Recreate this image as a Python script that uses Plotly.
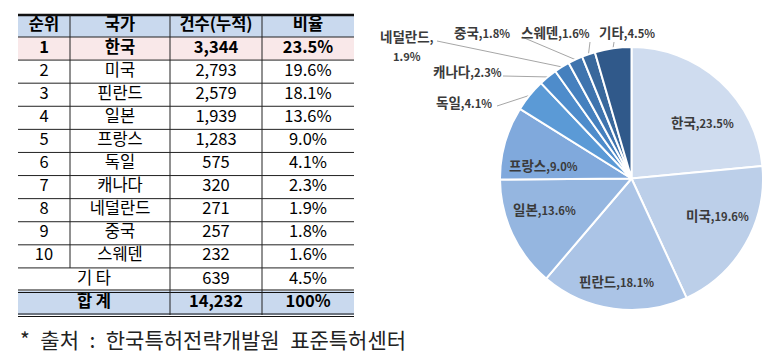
import math
import plotly.graph_objects as go

# ---------------- data ----------------
headers = ["순위", "국가", "건수(누적)", "비율"]
ranks = ["1", "2", "3", "4", "5", "6", "7", "8", "9", "10"]
countries = ["한국", "미국", "핀란드", "일본", "프랑스", "독일", "캐나다", "네덜란드", "중국", "스웨덴"]
counts = [3344, 2793, 2579, 1939, 1283, 575, 320, 271, 257, 232]
shares = ["23.5%", "19.6%", "18.1%", "13.6%", "9.0%", "4.1%", "2.3%", "1.9%", "1.8%", "1.6%"]
other_name = "기 타"
other_count = 639
other_share = "4.5%"
total_name = "합 계"
total_count = 14232
total_share = "100%"
pie_labels = countries + ["기타"]
pie_values = counts + [other_count]
pie_pcts = shares + [other_share]
source_note = "*\u2002출처\u2002:\u2002한국특허전략개발원\u2002표준특허센터"

# ---------------- style ----------------
W, H = 776, 357
FONT = "Noto Sans CJK KR"
col_edges = [18, 70, 170, 262, 354]
header_top, header_bot = 15, 37
body_bot, total_bot = 291, 315
n_body = len(ranks) + 1
row_h = (body_bot - header_bot) / n_body
head_fill = "#c9d9ee"
pink_fill = "#f9e8e9"
slice_colors = ["#cfdcef", "#bccfe9", "#abc4e6", "#95b6e0", "#80a9dc", "#5b9ad6",
                "#4e8ccb", "#4580be", "#3f74ae", "#39689c", "#30598a"]
pie_x = [500, 763]
pie_y = [47, 310]
# inside label placement: (angle deg clockwise from top, radius fraction)
inside_pos = {"한국": (51.7, 0.69), "미국": (113, 0.71), "핀란드": (188.5, 0.79),
              "일본": (250.8, 0.70), "프랑스": (278.7, 0.68)}
# outside label placement: (text x, text y, leader start x, leader start y)
outside_pos = {"독일": (464, 102, 497, 106), "캐나다": (467, 71, 503, 76),
               "네덜란드": (407, 46, 437, 41), "중국": (482, 32, 522, 37),
               "스웨덴": (555, 32, 590, 42), "기타": (627, 32, 614, 42)}
wrapped = {"네덜란드": 10}  # label split onto two lines, half line gap in px

fig = go.Figure()

# ---------------- pie ----------------
fig.add_trace(go.Pie(
    labels=pie_labels, values=pie_values, sort=False, direction="clockwise", rotation=0,
    marker=dict(colors=slice_colors, line=dict(color="white", width=2)),
    textinfo="none", hoverinfo="skip", showlegend=False,
    domain=dict(x=[pie_x[0] / W, pie_x[1] / W], y=[1 - pie_y[1] / H, 1 - pie_y[0] / H]),
))

cx = (pie_x[0] + pie_x[1]) / 2
cy = (pie_y[0] + pie_y[1]) / 2
R = (pie_x[1] - pie_x[0]) / 2
tot = sum(pie_values)
cum = 0
mids = {}
for lab, v in zip(pie_labels, pie_values):
    mids[lab] = (cum + v / 2) / tot * 360
    cum += v

annotations = []
lab_font = dict(family=FONT, size=11.2, color="#3a3a3a")
def add_label(x, y, txt):
    annotations.append(dict(x=x, y=y, xref="x", yref="y", text=txt, showarrow=False,
                            font=lab_font, xanchor="center", yanchor="middle"))

lx, ly = [], []
for lab, pct in zip(pie_labels, pie_pcts):
    name = f"<span style='font-size:13.5px'>{lab}</span>"
    if lab in inside_pos:
        ang, rf = inside_pos[lab]
        x = cx + R * rf * math.sin(math.radians(ang))
        y = cy - R * rf * math.cos(math.radians(ang))
        add_label(x, y, f"<b>{name},{pct}</b>")
    else:
        x, y, sx, sy = outside_pos[lab]
        a = math.radians(mids[lab])
        lx += [sx, cx + R * math.sin(a), None]
        ly += [sy, cy - R * math.cos(a), None]
        if lab in wrapped:
            g = wrapped[lab]
            add_label(x, y - g, f"<b>{name},</b>")
            add_label(x, y + g, f"<b>{pct}</b>")
        else:
            add_label(x, y, f"<b>{name},{pct}</b>")

fig.add_trace(go.Scatter(x=lx, y=ly, mode="lines", line=dict(color="#a6a6a6", width=1),
                         hoverinfo="skip", showlegend=False))

# ---------------- table ----------------
centers = [(col_edges[i] + col_edges[i + 1]) / 2 for i in range(4)]
merged_c = (col_edges[0] + col_edges[2]) / 2
row_c = [header_bot + row_h * (i + 0.5) for i in range(n_body)]
head_c = (header_top + header_bot) / 2
total_c = (body_bot + total_bot) / 2

tx, ty, tt = [], [], []
for i, h in enumerate(headers):
    tx.append(centers[i]); ty.append(head_c); tt.append(f"<b>{h}</b>")
for i in range(len(ranks)):
    b = (i == 0)
    vals = [ranks[i], countries[i], f"{counts[i]:,}", shares[i]]
    for j, v in enumerate(vals):
        tx.append(centers[j]); ty.append(row_c[i]); tt.append(f"<b>{v}</b>" if b else v)
tx += [merged_c, centers[2], centers[3]]
ty += [row_c[-1]] * 3
tt += [other_name, f"{other_count:,}", other_share]
tx += [merged_c, centers[2], centers[3]]
ty += [total_c] * 3
tt += [f"<b>{total_name}</b>", f"<b>{total_count:,}</b>", f"<b>{total_share}</b>"]

fig.add_trace(go.Scatter(x=tx, y=ty, text=tt, mode="text", textposition="middle center",
                         textfont=dict(family=FONT, size=16.5, color="#000"),
                         hoverinfo="skip", showlegend=False, cliponaxis=False))

shapes = []
def rect(y0, y1, color):
    shapes.append(dict(type="rect", xref="x", yref="y", x0=col_edges[0], x1=col_edges[-1],
                       y0=y0, y1=y1, fillcolor=color, line=dict(width=0), layer="below"))
def hline(y, w=1, color="#222"):
    shapes.append(dict(type="line", xref="x", yref="y", x0=col_edges[0], x1=col_edges[-1],
                       y0=y, y1=y, line=dict(color=color, width=w)))
def vline(x, y0, y1):
    shapes.append(dict(type="line", xref="x", yref="y", x0=x, x1=x, y0=y0, y1=y1,
                       line=dict(color="#222", width=1)))

rect(header_top, header_bot, head_fill)
rect(header_bot, header_bot + row_h, pink_fill)
rect(body_bot, total_bot, head_fill)
hline(header_top, 2.5, "#111")
hline(header_bot, 1.2)
for i in range(1, n_body):
    hline(header_bot + row_h * i, 1)
hline(body_bot - 1, 1.2, "#111")
hline(body_bot + 1.5, 1.2, "#111")
hline(total_bot - 1, 1.2, "#111")
hline(total_bot + 1.5, 1.2, "#111")
vline(col_edges[1], header_top, header_bot + row_h * len(ranks))
vline(col_edges[2], header_top, total_bot)
vline(col_edges[3], header_top, total_bot)

annotations.append(dict(x=col_edges[0], y=339, xref="x", yref="y", text=source_note,
                        showarrow=False, xanchor="left", yanchor="middle",
                        font=dict(family=FONT, size=21, color="#222")))

fig.update_layout(
    width=W, height=H, margin=dict(l=0, r=0, t=0, b=0),
    paper_bgcolor="white", plot_bgcolor="white",
    xaxis=dict(range=[0, W], domain=[0, 1], visible=False, fixedrange=True),
    yaxis=dict(range=[H, 0], domain=[0, 1], visible=False, fixedrange=True),
    shapes=shapes, annotations=annotations, showlegend=False,
)

fig.write_html("out.html", config={"displayModeBar": False},
               post_script="document.body.style.margin='0px';")
